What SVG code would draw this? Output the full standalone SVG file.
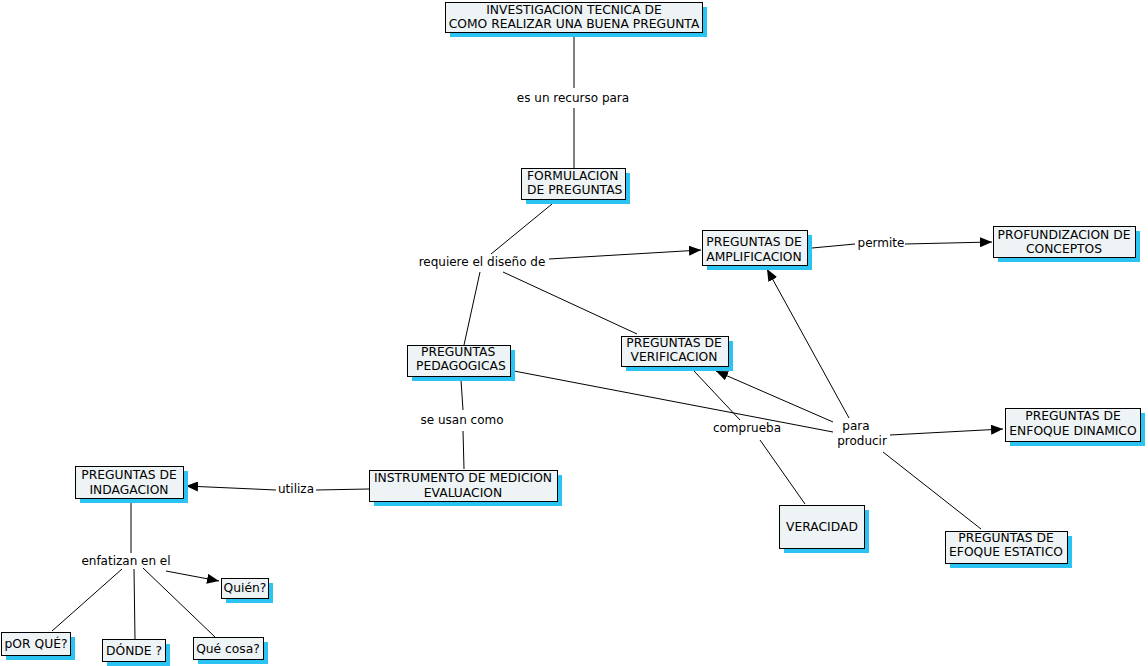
<svg xmlns="http://www.w3.org/2000/svg" width="1148" height="666" viewBox="0 0 1148 666">
<style>
.sh{fill:#2bc4f2;stroke:none}
.bx{fill:#eef3f5;stroke:#000;stroke-width:1}
.t{font-family:"DejaVu Sans",Verdana,sans-serif;font-size:12.3px;fill:#000;text-anchor:middle}
.tl{font-family:"DejaVu Sans",Verdana,sans-serif;font-size:12.3px;fill:#000}
.lk{font-family:"DejaVu Sans",Verdana,sans-serif;font-size:12px;fill:#000;text-anchor:middle}
.c{stroke:#000;stroke-width:1;fill:none}
.a{stroke:#000;stroke-width:1;fill:none;marker-end:url(#ar)}
</style>
<defs>
<marker id="ar" viewBox="0 0 12 10" refX="12" refY="5" markerWidth="12" markerHeight="10" markerUnits="userSpaceOnUse" orient="auto">
<path d="M0,0 L12,5 L0,10 z" fill="#000"/>
</marker>
</defs>
<rect width="1148" height="666" fill="#fff"/>
<g id="connectors">
<line class="c" x1="574" y1="33" x2="574" y2="88"/>
<line class="c" x1="574" y1="108" x2="574" y2="168"/>
<line class="c" x1="552" y1="204" x2="491" y2="254"/>
<line class="a" x1="549" y1="259" x2="701" y2="250"/>
<line class="c" x1="480" y1="272" x2="464" y2="345"/>
<line class="c" x1="503" y1="272" x2="637" y2="334"/>
<line class="c" x1="461" y1="380" x2="463" y2="410"/>
<line class="c" x1="463" y1="431" x2="464" y2="469"/>
<line class="c" x1="369" y1="489" x2="316" y2="490"/>
<line class="a" x1="276" y1="490" x2="186" y2="486"/>
<line class="c" x1="131" y1="502" x2="131" y2="553"/>
<line class="a" x1="166" y1="571" x2="219" y2="581"/>
<line class="c" x1="122" y1="569" x2="52" y2="631"/>
<line class="c" x1="134" y1="569" x2="135" y2="639"/>
<line class="c" x1="143" y1="568" x2="215" y2="637"/>
<line class="c" x1="812" y1="248" x2="855" y2="244"/>
<line class="a" x1="905" y1="244" x2="992" y2="242"/>
<line class="c" x1="514" y1="371" x2="833" y2="432"/>
<line class="c" x1="694" y1="371" x2="740" y2="420"/>
<line class="c" x1="760" y1="440" x2="805" y2="504"/>
<line class="a" x1="833" y1="422" x2="716" y2="371"/>
<line class="a" x1="849" y1="418" x2="767" y2="269"/>
<line class="a" x1="890" y1="435" x2="1003" y2="429"/>
<line class="c" x1="883" y1="452" x2="981" y2="529"/>
</g>
<g id="labels">
<text class="lk" x="573" y="102">es un recurso para</text>
<text class="lk" x="482" y="266">requiere el diseño de</text>
<text class="lk" x="881" y="247">permite</text>
<text class="lk" x="462" y="424">se usan como</text>
<text class="lk" x="296" y="493">utiliza</text>
<text class="lk" x="747" y="432">comprueba</text>
<text class="lk" x="856" y="430">para</text>
<text class="lk" x="862" y="445">producir</text>
<text class="lk" x="126" y="565">enfatizan en el</text>
</g>
<g id="n-investigacion">
<rect class="sh" x="450" y="7" width="257" height="30"/>
<rect class="bx" x="445.5" y="2.5" width="257" height="30"/>
<text class="t" x="574" y="14">INVESTIGACION TECNICA DE</text>
<text class="t" x="574" y="28">COMO REALIZAR UNA BUENA PREGUNTA</text>
</g>
<g id="n-formulacion">
<rect class="sh" x="526" y="173" width="104" height="31"/>
<rect class="bx" x="521.5" y="168.5" width="104" height="31"/>
<text class="tl" x="527" y="180">FORMULACION</text>
<text class="tl" x="527" y="194">DE PREGUNTAS</text>
</g>
<g id="n-amplificacion">
<rect class="sh" x="707" y="235" width="105" height="35"/>
<rect class="bx" x="702.5" y="230.5" width="105" height="35"/>
<text class="t" x="754" y="246">PREGUNTAS DE</text>
<text class="t" x="754" y="261">AMPLIFICACION</text>
</g>
<g id="n-profundizacion">
<rect class="sh" x="998" y="231" width="142" height="31"/>
<rect class="bx" x="993.5" y="226.5" width="142" height="31"/>
<text class="t" x="1064" y="239">PROFUNDIZACION DE</text>
<text class="t" x="1064" y="253">CONCEPTOS</text>
</g>
<g id="n-pedagogicas">
<rect class="sh" x="412" y="350" width="103" height="31"/>
<rect class="bx" x="407.5" y="345.5" width="103" height="31"/>
<text class="tl" x="421" y="356">PREGUNTAS</text>
<text class="tl" x="416" y="370">PEDAGOGICAS</text>
</g>
<g id="n-verificacion">
<rect class="sh" x="626" y="341" width="107" height="30"/>
<rect class="bx" x="621.5" y="336.5" width="107" height="30"/>
<text class="t" x="674" y="347">PREGUNTAS DE</text>
<text class="t" x="674" y="361">VERIFICACION</text>
</g>
<g id="n-instrumento">
<rect class="sh" x="374" y="475" width="188" height="31"/>
<rect class="bx" x="369.5" y="470.5" width="188" height="31"/>
<text class="t" x="463" y="482">INSTRUMENTO DE MEDICION</text>
<text class="t" x="463" y="497">EVALUACION</text>
</g>
<g id="n-indagacion">
<rect class="sh" x="80" y="471" width="108" height="32"/>
<rect class="bx" x="75.5" y="466.5" width="108" height="32"/>
<text class="t" x="129" y="479">PREGUNTAS DE</text>
<text class="t" x="129" y="494">INDAGACION</text>
</g>
<g id="n-quien">
<rect class="sh" x="226" y="583" width="47" height="20"/>
<rect class="bx" x="221.5" y="578.5" width="47" height="20"/>
<text class="t" x="245" y="592">Quién?</text>
</g>
<g id="n-porque">
<rect class="sh" x="6" y="637" width="69" height="23"/>
<rect class="bx" x="1.5" y="632.5" width="69" height="23"/>
<text class="t" x="36" y="648">pOR QUÉ?</text>
</g>
<g id="n-donde">
<rect class="sh" x="107" y="644" width="63" height="22"/>
<rect class="bx" x="102.5" y="639.5" width="63" height="22"/>
<text class="t" x="134" y="655">DÓNDE ?</text>
</g>
<g id="n-quecosa">
<rect class="sh" x="198" y="642" width="70" height="22"/>
<rect class="bx" x="193.5" y="637.5" width="70" height="22"/>
<text class="t" x="228" y="653">Qué cosa?</text>
</g>
<g id="n-veracidad">
<rect class="sh" x="784" y="510" width="85" height="43"/>
<rect class="bx" x="779.5" y="505.5" width="85" height="43"/>
<text class="t" x="822" y="531">VERACIDAD</text>
</g>
<g id="n-dinamico">
<rect class="sh" x="1010" y="413" width="135" height="33"/>
<rect class="bx" x="1005.5" y="408.5" width="135" height="33"/>
<text class="t" x="1073" y="420">PREGUNTAS DE</text>
<text class="t" x="1073" y="435">ENFOQUE DINAMICO</text>
</g>
<g id="n-estatico">
<rect class="sh" x="950" y="536" width="122" height="32"/>
<rect class="bx" x="945.5" y="531.5" width="122" height="32"/>
<text class="t" x="1006" y="542">PREGUNTAS DE</text>
<text class="t" x="1006" y="556">EFOQUE ESTATICO</text>
</g>
</svg>
